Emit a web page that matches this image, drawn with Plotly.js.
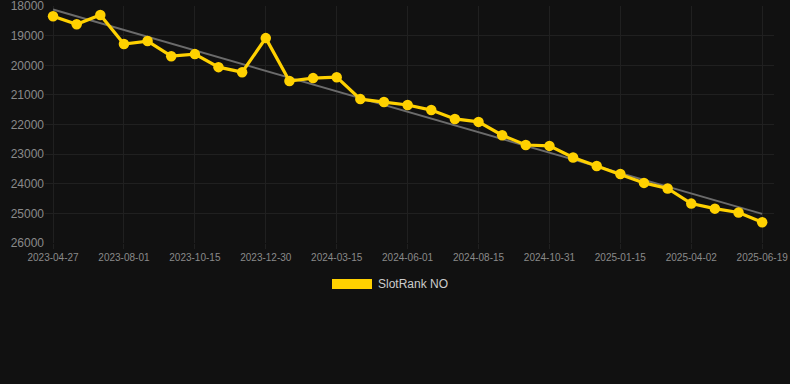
<!DOCTYPE html>
<html>
<head>
<meta charset="utf-8">
<script src="https://cdn.plot.ly/plotly-3.0.1.min.js"></script>
<style>
html,body{margin:0;padding:0;background:#111111;}
#chart{width:790px;height:384px;}
</style>
</head>
<body>
<div id="chart"></div>
<script>
const dates = ["2023-04-27","2023-05-29","2023-06-30","2023-08-01","2023-08-26","2023-09-20","2023-10-15","2023-11-09","2023-12-05","2023-12-30","2024-01-24","2024-02-19","2024-03-15","2024-04-10","2024-05-06","2024-06-01","2024-06-26","2024-07-21","2024-08-15","2024-09-10","2024-10-05","2024-10-31","2024-11-25","2024-12-21","2025-01-15","2025-02-10","2025-03-08","2025-04-02","2025-04-28","2025-05-24","2025-06-19"];
const ranks = [18340,18610,18300,19280,19180,19690,19620,20060,20230,19080,20530,20430,20400,21140,21240,21340,21510,21810,21910,22360,22690,22720,23110,23400,23670,23970,24160,24670,24840,24970,25300];
const tickLabels = ["2023-04-27","2023-08-01","2023-10-15","2023-12-30","2024-03-15","2024-06-01","2024-08-15","2024-10-31","2025-01-15","2025-04-02","2025-06-19"];
const yTicks = [18000,19000,20000,21000,22000,23000,24000,25000,26000];
const seriesName = "SlotRank NO";

// linear trend (least squares on index)
const n = ranks.length;
let sx=0, sy=0, sxx=0, sxy=0;
ranks.forEach((v,i)=>{sx+=i; sy+=v; sxx+=i*i; sxy+=i*v;});
const slope = (n*sxy - sx*sy)/(n*sxx - sx*sx);
const icpt = (sy - slope*sx)/n;
const trend = [icpt, icpt + slope*(n-1)];

const traces = [
  {x:[dates[0], dates[n-1]], y:trend, type:'scatter', mode:'lines',
   line:{color:'#6b6b6b', width:2}, hoverinfo:'skip', showlegend:false},
  {x:dates, y:ranks, type:'scatter', mode:'lines+markers', name:seriesName,
   line:{color:'#FFD100', width:3.2}, marker:{color:'#FFD100', size:10.5}, showlegend:false}
];

const layout = {
  width:790, height:384,
  paper_bgcolor:'#111111', plot_bgcolor:'#111111',
  margin:{l:45, r:16, t:6, b:141},
  font:{family:'"Liberation Sans", Arial, sans-serif', color:'#8a8a8a'},
  showlegend:false,
  xaxis:{type:'category', categoryorder:'array', categoryarray:dates, range:[-0.34, 30.5],
    tickmode:'array', tickvals:tickLabels, ticktext:tickLabels,
    tickfont:{size:10, color:'#8a8a8a'}, gridcolor:'#202020', gridwidth:1, showline:false, zeroline:false,
    ticks:'outside', ticklen:5, tickcolor:'#202020'},
  yaxis:{range:[26000,17995], tickmode:'array', tickvals:yTicks, ticktext:yTicks.map(String),
    tickfont:{size:12, color:'#8a8a8a'}, ticklabeloverflow:'allow',
    gridcolor:'#202020', gridwidth:1, zeroline:false, showline:false, ticks:''},
  shapes:[{type:'rect', xref:'paper', yref:'paper', x0:(332-45)/729, x1:(372-45)/729,
    y0:(384-141-289)/237, y1:(384-141-279)/237, fillcolor:'#FFD100', line:{width:0}}],
  annotations:[{xref:'paper', yref:'paper', x:(376-45)/729, y:(384-141-284)/237, xanchor:'left', yanchor:'middle',
    text:seriesName, showarrow:false, font:{size:12, color:'#cccccc'}}]
};
Plotly.newPlot('chart', traces, layout, {displayModeBar:false, staticPlot:true});
</script>
</body>
</html>
